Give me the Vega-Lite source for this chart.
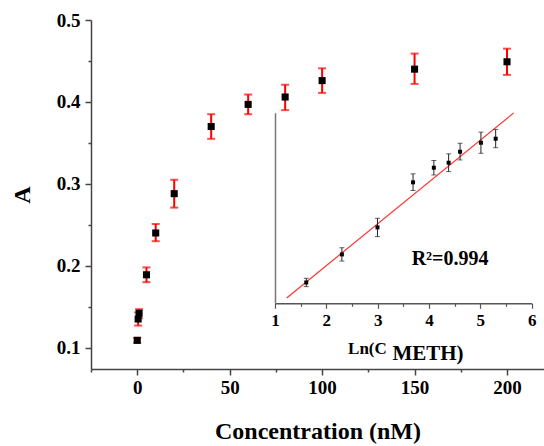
{
  "$schema": "https://vega.github.io/schema/vega-lite/v6.json",
  "width": 453,
  "height": 349,
  "autosize": {"type": "none"},
  "padding": {"left": 91, "top": 20, "right": 0, "bottom": 77},
  "config": {
    "view": {"stroke": null},
    "font": "Liberation Serif"
  },
  "datasets": {
    "main": [
      {"conc": 0, "A": 0.109, "lo": 0.106, "hi": 0.112},
      {"conc": 0.5, "A": 0.135, "lo": 0.127, "hi": 0.143},
      {"conc": 1, "A": 0.142, "lo": 0.136, "hi": 0.147},
      {"conc": 5, "A": 0.189, "lo": 0.180, "hi": 0.198},
      {"conc": 10, "A": 0.240, "lo": 0.230, "hi": 0.251},
      {"conc": 20, "A": 0.288, "lo": 0.271, "hi": 0.305},
      {"conc": 40, "A": 0.370, "lo": 0.355, "hi": 0.385},
      {"conc": 60, "A": 0.397, "lo": 0.385, "hi": 0.409},
      {"conc": 80, "A": 0.406, "lo": 0.390, "hi": 0.421},
      {"conc": 100, "A": 0.426, "lo": 0.411, "hi": 0.441},
      {"conc": 150, "A": 0.440, "lo": 0.422, "hi": 0.459},
      {"conc": 200, "A": 0.449, "lo": 0.433, "hi": 0.465}
    ],
    "inset": [
      {"lnC": 1.609, "A": 0.1895, "lo": 0.182, "hi": 0.197},
      {"lnC": 2.303, "A": 0.240, "lo": 0.228, "hi": 0.252},
      {"lnC": 2.996, "A": 0.2886, "lo": 0.272, "hi": 0.305},
      {"lnC": 3.689, "A": 0.3697, "lo": 0.355, "hi": 0.385},
      {"lnC": 4.094, "A": 0.396, "lo": 0.383, "hi": 0.409},
      {"lnC": 4.382, "A": 0.405, "lo": 0.389, "hi": 0.421},
      {"lnC": 4.605, "A": 0.4248, "lo": 0.410, "hi": 0.440},
      {"lnC": 5.011, "A": 0.441, "lo": 0.422, "hi": 0.460},
      {"lnC": 5.298, "A": 0.4482, "lo": 0.432, "hi": 0.465}
    ],
    "fit": [
      {"lnC": 1.228, "A": 0.1617},
      {"lnC": 5.65, "A": 0.4947}
    ],
    "r2": [
      {"lnC": 4.41, "A": 0.231, "label": "R²=0.994"}
    ]
  },
  "layer": [
    {
      "data": {"name": "main"},
      "encoding": {
        "x": {
          "field": "conc", "type": "quantitative",
          "scale": {"domain": [-25, 220], "nice": false, "zero": false},
          "axis": {
            "title": "Concentration (nM)",
            "values": [-25, 0, 25, 50, 75, 100, 125, 150, 175, 200],
            "labelExpr": "datum.value % 50 == 0 ? format(datum.value, 'd') : ''",
            "tickSize": {"condition": {"test": "datum.value % 50 != 0", "value": 3}, "value": 6},
            "grid": false,
            "domainColor": "#444444", "domainWidth": 1.5,
            "tickColor": "#444444", "tickWidth": 1.5,
            "labelFont": "Liberation Serif", "labelFontSize": 19, "labelFontWeight": "bold", "labelColor": "#000000",
            "labelPadding": 3, "labelFlush": false,
            "titleFont": "Liberation Serif", "titleFontSize": 24, "titleFontWeight": "bold", "titleColor": "#000000",
            "titlePadding": 22
          }
        },
        "y": {
          "field": "A", "type": "quantitative",
          "scale": {"domain": [0.074, 0.5], "nice": false, "zero": false},
          "axis": {
            "title": "A",
            "values": [0.1, 0.15, 0.2, 0.25, 0.3, 0.35, 0.4, 0.45, 0.5],
            "labelExpr": "round(datum.value * 100) % 10 == 0 ? format(datum.value, '.1f') : ''",
            "tickSize": {"condition": {"test": "round(datum.value * 100) % 10 != 0", "value": 3}, "value": 6},
            "grid": false,
            "domainColor": "#444444", "domainWidth": 1.5,
            "tickColor": "#444444", "tickWidth": 1.5,
            "labelFont": "Liberation Serif", "labelFontSize": 19, "labelFontWeight": "bold", "labelColor": "#000000",
            "labelPadding": 5, "labelFlush": false,
            "titleFont": "Liberation Serif", "titleFontSize": 24, "titleFontWeight": "bold", "titleColor": "#000000",
            "titlePadding": 22
          }
        }
      },
      "layer": [
        {
          "mark": {"type": "rule", "color": "#ff0000", "strokeWidth": 2},
          "encoding": {"y": {"field": "lo", "type": "quantitative"}, "y2": {"field": "hi"}}
        },
        {
          "mark": {"type": "tick", "orient": "horizontal", "color": "#ff0000", "size": 8, "thickness": 2},
          "encoding": {"y": {"field": "lo", "type": "quantitative"}}
        },
        {
          "mark": {"type": "tick", "orient": "horizontal", "color": "#ff0000", "size": 8, "thickness": 2},
          "encoding": {"y": {"field": "hi", "type": "quantitative"}}
        },
        {
          "mark": {"type": "square", "color": "#000000", "opacity": 1, "size": 50, "filled": true}
        }
      ]
    },
    {
      "encoding": {
        "x": {
          "field": "lnC", "type": "quantitative",
          "scale": {"domain": [1, 6], "range": [184, 440.7], "nice": false, "zero": false},
          "axis": {
            "orient": "bottom",
            "offset": -65.7,
            "title": null,
            "values": [1, 1.5, 2, 2.5, 3, 3.5, 4, 4.5, 5, 5.5, 6],
            "labelExpr": "datum.value % 1 == 0 ? format(datum.value, 'd') : ''",
            "tickSize": {"condition": {"test": "datum.value % 1 != 0", "value": 3}, "value": 5},
            "grid": false,
            "domainColor": "#555555", "domainWidth": 1.5,
            "tickColor": "#555555", "tickWidth": 1.2,
            "labelFont": "Liberation Serif", "labelFontSize": 17, "labelFontWeight": "bold", "labelColor": "#000000",
            "labelPadding": 4, "labelFlush": false
          }
        },
        "y": {
          "field": "A", "type": "quantitative",
          "scale": {"domain": [0.152, 0.495], "range": [283.3, 92.7], "nice": false, "zero": false},
          "axis": {
            "orient": "left",
            "offset": -184,
            "title": null,
            "ticks": false, "labels": false, "grid": false,
            "domainColor": "#777777", "domainWidth": 1.5
          }
        }
      },
      "layer": [
        {
          "data": {"name": "fit"},
          "mark": {"type": "line", "color": "#ff3333", "strokeWidth": 1.2}
        },
        {
          "data": {"name": "inset"},
          "mark": {"type": "rule", "color": "#222222", "strokeWidth": 1},
          "encoding": {"y": {"field": "lo", "type": "quantitative"}, "y2": {"field": "hi"}}
        },
        {
          "data": {"name": "inset"},
          "mark": {"type": "tick", "orient": "horizontal", "color": "#222222", "size": 5, "thickness": 1},
          "encoding": {"y": {"field": "lo", "type": "quantitative"}}
        },
        {
          "data": {"name": "inset"},
          "mark": {"type": "tick", "orient": "horizontal", "color": "#222222", "size": 5, "thickness": 1},
          "encoding": {"y": {"field": "hi", "type": "quantitative"}}
        },
        {
          "data": {"name": "inset"},
          "mark": {"type": "square", "color": "#000000", "opacity": 1, "size": 16, "filled": true}
        },
        {
          "data": {"name": "r2"},
          "mark": {"type": "text", "font": "Liberation Serif", "fontSize": 20, "fontWeight": "bold", "color": "#000000", "align": "center", "baseline": "middle"},
          "encoding": {"text": {"field": "label"}}
        },
        {
          "data": {"name": "r2"},
          "mark": {"type": "text", "font": "Liberation Serif", "fontSize": 17, "fontWeight": "bold", "color": "#000000", "align": "center", "baseline": "alphabetic", "dy": 51},
          "encoding": {"text": {"value": "Ln(C"}, "x": {"datum": 2.8, "type": "quantitative"}, "y": {"datum": 0.152, "type": "quantitative"}}
        },
        {
          "data": {"name": "r2"},
          "mark": {"type": "text", "font": "Liberation Serif", "fontSize": 21, "fontWeight": "bold", "color": "#000000", "align": "center", "baseline": "alphabetic", "dy": 57},
          "encoding": {"text": {"value": "METH)"}, "x": {"datum": 3.98, "type": "quantitative"}, "y": {"datum": 0.152, "type": "quantitative"}}
        }
      ]
    }
  ],
  "resolve": {
    "scale": {"x": "independent", "y": "independent"},
    "axis": {"x": "independent", "y": "independent"}
  }
}
